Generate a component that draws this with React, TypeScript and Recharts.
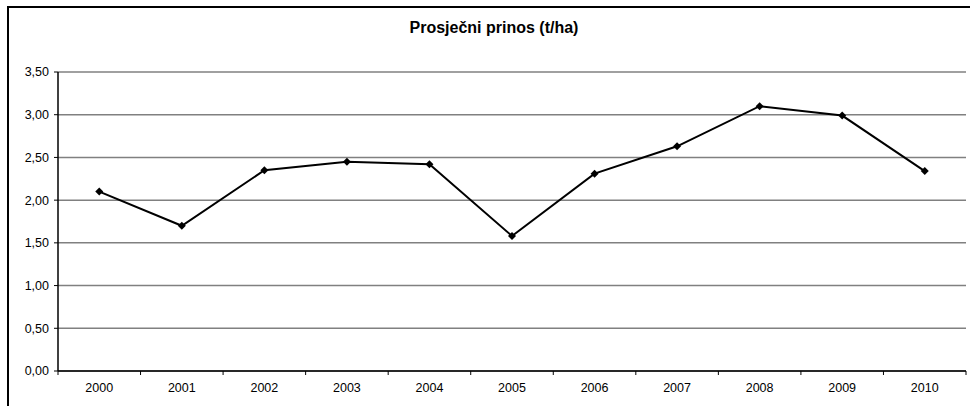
import React from 'react';
import { LineChart, Line, XAxis, YAxis, CartesianGrid } from 'recharts';

const years: string[] = ['2000', '2001', '2002', '2003', '2004', '2005', '2006', '2007', '2008', '2009', '2010'];
const yields: number[] = [2.1, 1.7, 2.35, 2.45, 2.42, 1.58, 2.31, 2.63, 3.1, 2.99, 2.34];
const yTicks: number[] = [0, 0.5, 1, 1.5, 2, 2.5, 3, 3.5];

const data = years.map((year, i) => ({ year, value: yields[i] }));

const W = 970;
const H = 406;
const M = { top: 72, right: 4, bottom: 0, left: 0 };
const X_AXIS_H = 35;
const Y_AXIS_W = 58;
const FONT = '"Liberation Sans", Arial, sans-serif';
const band = (W - M.left - M.right - Y_AXIS_W) / years.length;

// year label under the category, tick marks sit on the category boundaries
const YearTick = (props: any) => {
  const { x, y, payload, index } = props;
  return (
    <g>
      <line x1={x - band / 2} y1={y - 8} x2={x - band / 2} y2={y - 4} stroke="#000" />
      {index === years.length - 1 && (
        <line x1={x + band / 2} y1={y - 8} x2={x + band / 2} y2={y - 4} stroke="#000" />
      )}
      <text x={x} y={y + 13} textAnchor="middle" fontSize={12.5} fontFamily={FONT} fill="#000">
        {payload.value}
      </text>
    </g>
  );
};

const Diamond = (props: any) => {
  const { cx, cy } = props;
  if (cx == null || cy == null) return null;
  const s = 4;
  return <path d={`M${cx},${cy - s}L${cx + s},${cy}L${cx},${cy + s}L${cx - s},${cy}Z`} fill="#000" />;
};

export default function App() {
  return (
    <div style={{ position: 'absolute', left: 0, top: 0, width: W, height: H, overflow: 'hidden', background: '#fff' }}>
      <div
        style={{
          position: 'absolute',
          left: 7,
          top: 6,
          width: W + 20,
          height: H + 20,
          borderTop: '2px solid #000',
          borderLeft: '2px solid #000',
        }}
      />
      <div
        style={{
          position: 'absolute',
          left: 0,
          top: 19,
          width: 988,
          textAlign: 'center',
          fontFamily: FONT,
          fontWeight: 'bold',
          fontSize: 16,
          color: '#000',
        }}
      >
        Prosječni prinos (t/ha)
      </div>
      <div style={{ position: 'absolute', left: 0, top: 0 }}>
        <LineChart width={W} height={H} data={data} margin={M}>
          <CartesianGrid yAxisId="left" horizontal vertical={false} stroke="#808080" strokeWidth={1.5} />
          <XAxis
            dataKey="year"
            scale="band"
            height={X_AXIS_H}
            axisLine={{ stroke: '#000', strokeWidth: 1.5 }}
            tickLine={false}
            tick={<YearTick />}
            interval={0}
          />
          <YAxis
            yAxisId="left"
            domain={[0, 3.5]}
            ticks={yTicks}
            width={Y_AXIS_W}
            axisLine={{ stroke: '#000', strokeWidth: 1.5 }}
            tickLine={{ stroke: '#000' }}
            tickSize={4}
            tickFormatter={(v: number) => v.toFixed(2).replace('.', ',')}
            tick={{ fill: '#000', fontSize: 12.5, fontFamily: FONT, dx: -3 }}
            interval={0}
          />
          <YAxis
            yAxisId="right"
            orientation="right"
            domain={[0, 3.5]}
            width={0}
            tick={false}
            tickLine={false}
            axisLine={{ stroke: '#808080', strokeWidth: 1.5 }}
          />
          <Line
            yAxisId="left"
            dataKey="value"
            stroke="#000"
            strokeWidth={2}
            dot={<Diamond />}
            activeDot={false}
            isAnimationActive={false}
          />
        </LineChart>
      </div>
    </div>
  );
}
